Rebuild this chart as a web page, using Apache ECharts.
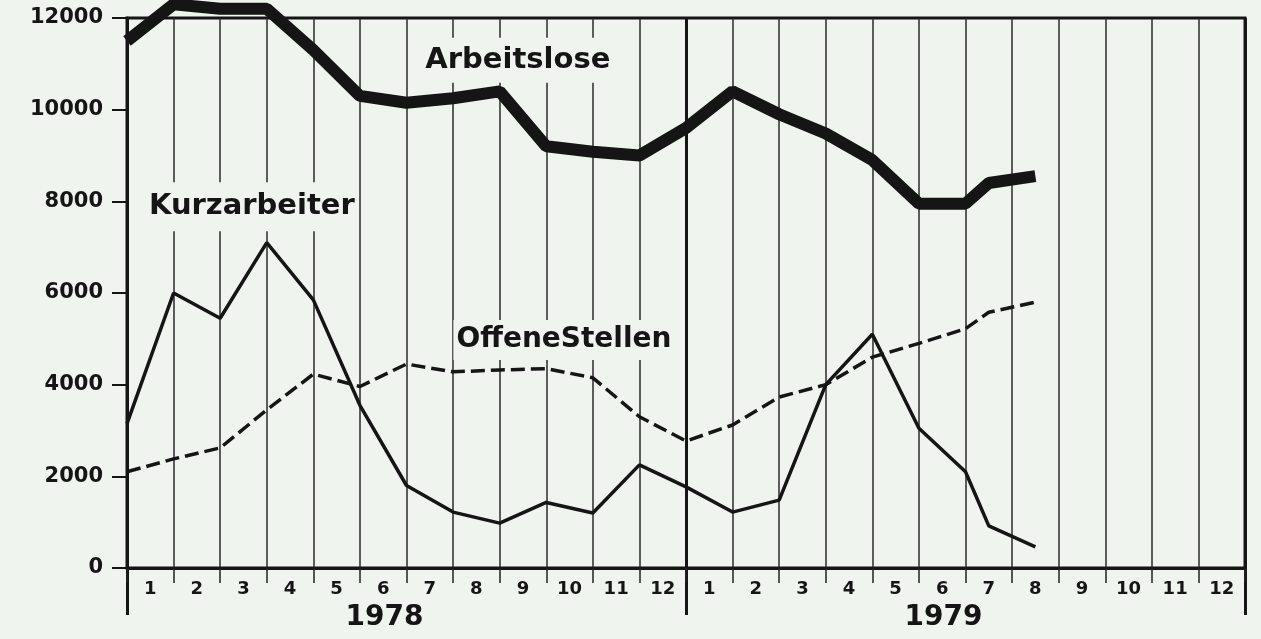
<!DOCTYPE html>
<html>
<head>
<meta charset="utf-8">
<script src="https://cdn.jsdelivr.net/npm/echarts@6/dist/echarts.min.js"></script>
<style>
  html, body { margin: 0; padding: 0; background: #eff4ee; }
  #main { width: 1261px; height: 639px; }
</style>
</head>
<body>
<div id="main"></div>
<script>
// month positions (0 = start of Jan 1978, 24 = end of Dec 1979)
var monthPos = [0, 1, 2, 3, 4, 5, 6, 7, 8, 9, 10, 11, 12, 13, 14, 15, 16, 17, 18, 18.5, 19.5];
var arbeitslose = [11500, 12300, 12200, 12200, 11300, 10300, 10150, 10250, 10400, 9200, 9080, 9000, 9600, 10400, 9900, 9480, 8900, 7950, 7950, 8400, 8550];
var kurzarbeiter = [3150, 6000, 5450, 7100, 5850, 3550, 1800, 1220, 980, 1430, 1200, 2250, 1770, 1220, 1480, 4000, 5100, 3050, 2100, 920, 460];
var offeneStellen = [2100, 2380, 2620, 3450, 4230, 3960, 4450, 4280, 4320, 4350, 4150, 3300, 2770, 3120, 3730, 4000, 4600, 4900, 5220, 5580, 5800];
var monthLabels = ['1','2','3','4','5','6','7','8','9','10','11','12','1','2','3','4','5','6','7','8','9','10','11','12'];
var yearLabels = ['1978', '1979'];

var bg = '#eff4ee';
var ink = '#151515';
var font = 'DejaVu Sans';

function pairs(vals) {
  return vals.map(function (v, i) { return [monthPos[i], v]; });
}

function tag(text, coord, size, pad) {
  return {
    symbol: 'circle',
    symbolSize: 1,
    itemStyle: { color: 'rgba(0,0,0,0)' },
    data: [{
      coord: coord,
      label: {
        show: true,
        position: 'inside',
        formatter: text,
        color: ink,
        fontFamily: font,
        fontWeight: 'bold',
        fontSize: size,
        backgroundColor: bg,
        padding: pad
      }
    }]
  };
}

var myChart = echarts.init(document.getElementById('main'));
var option = {
  backgroundColor: bg,
  animation: false,
  grid: [
    { left: 127, right: 16, top: 18, bottom: 71, show: true, borderColor: ink, borderWidth: 3, backgroundColor: 'transparent' },
    { left: 127, right: 16, top: 18, bottom: 24 }
  ],
  xAxis: [
    {
      gridIndex: 0,
      type: 'value',
      min: 0,
      max: 24,
      interval: 1,
      axisLine: { onZero: true, lineStyle: { color: ink, width: 3 } },
      axisTick: { show: true, length: 15, lineStyle: { color: '#222', width: 1.5 } },
      axisLabel: { show: false },
      splitLine: { show: true, lineStyle: { color: '#2a2a2a', width: 1.5 } }
    },
    {
      gridIndex: 0,
      type: 'category',
      position: 'bottom',
      data: monthLabels,
      boundaryGap: true,
      axisLine: { show: false },
      axisTick: { show: false },
      splitLine: { show: false },
      axisLabel: { interval: 0, margin: 12, color: ink, fontFamily: font, fontWeight: 'bold', fontSize: 18 }
    },
    {
      gridIndex: 0,
      type: 'category',
      position: 'bottom',
      data: yearLabels,
      boundaryGap: true,
      axisLine: { show: false },
      axisTick: { show: false },
      splitLine: { show: false },
      axisLabel: { interval: 0, margin: 36, color: ink, fontFamily: font, fontWeight: 'bold', fontSize: 28, padding: [0, 44, 0, 0] }
    },
    {
      gridIndex: 1,
      type: 'value',
      min: 0,
      max: 24,
      interval: 12,
      axisLine: { show: false },
      axisTick: { show: false },
      axisLabel: { show: false },
      splitLine: { show: true, lineStyle: { color: ink, width: 3 } }
    }
  ],
  yAxis: [
    {
      gridIndex: 0,
      type: 'value',
      min: 0,
      max: 12000,
      interval: 2000,
      axisLine: { show: true, lineStyle: { color: ink, width: 3 } },
      axisTick: { show: true, length: 15, lineStyle: { color: ink, width: 2 } },
      axisLabel: {
        margin: 24,
        color: ink,
        fontFamily: font,
        fontWeight: 'bold',
        fontSize: 21,
        formatter: function (v) { return String(v); }
      },
      splitLine: { show: false }
    },
    {
      gridIndex: 1,
      type: 'value',
      min: 0,
      max: 1,
      show: false
    }
  ],
  series: [
    {
      name: 'Arbeitslose',
      type: 'line',
      clip: false,
      symbol: 'none',
      lineStyle: { color: ink, width: 12 },
      data: pairs(arbeitslose),
      markPoint: tag('Arbeitslose', [8.39, 11080], 29, [8, 8])
    },
    {
      name: 'Kurzarbeiter',
      type: 'line',
      symbol: 'none',
      lineStyle: { color: ink, width: 3.5 },
      data: pairs(kurzarbeiter),
      markPoint: tag('Kurzarbeiter', [2.68, 7880], 29, [10, 2])
    },
    {
      name: 'Offene Stellen',
      type: 'line',
      symbol: 'none',
      lineStyle: { color: ink, width: 3.5, type: [14, 6] },
      data: pairs(offeneStellen),
      markPoint: tag('OffeneStellen', [9.38, 4975], 28, [6, 3])
    }
  ]
};

myChart.setOption(option);
</script>
</body>
</html>
